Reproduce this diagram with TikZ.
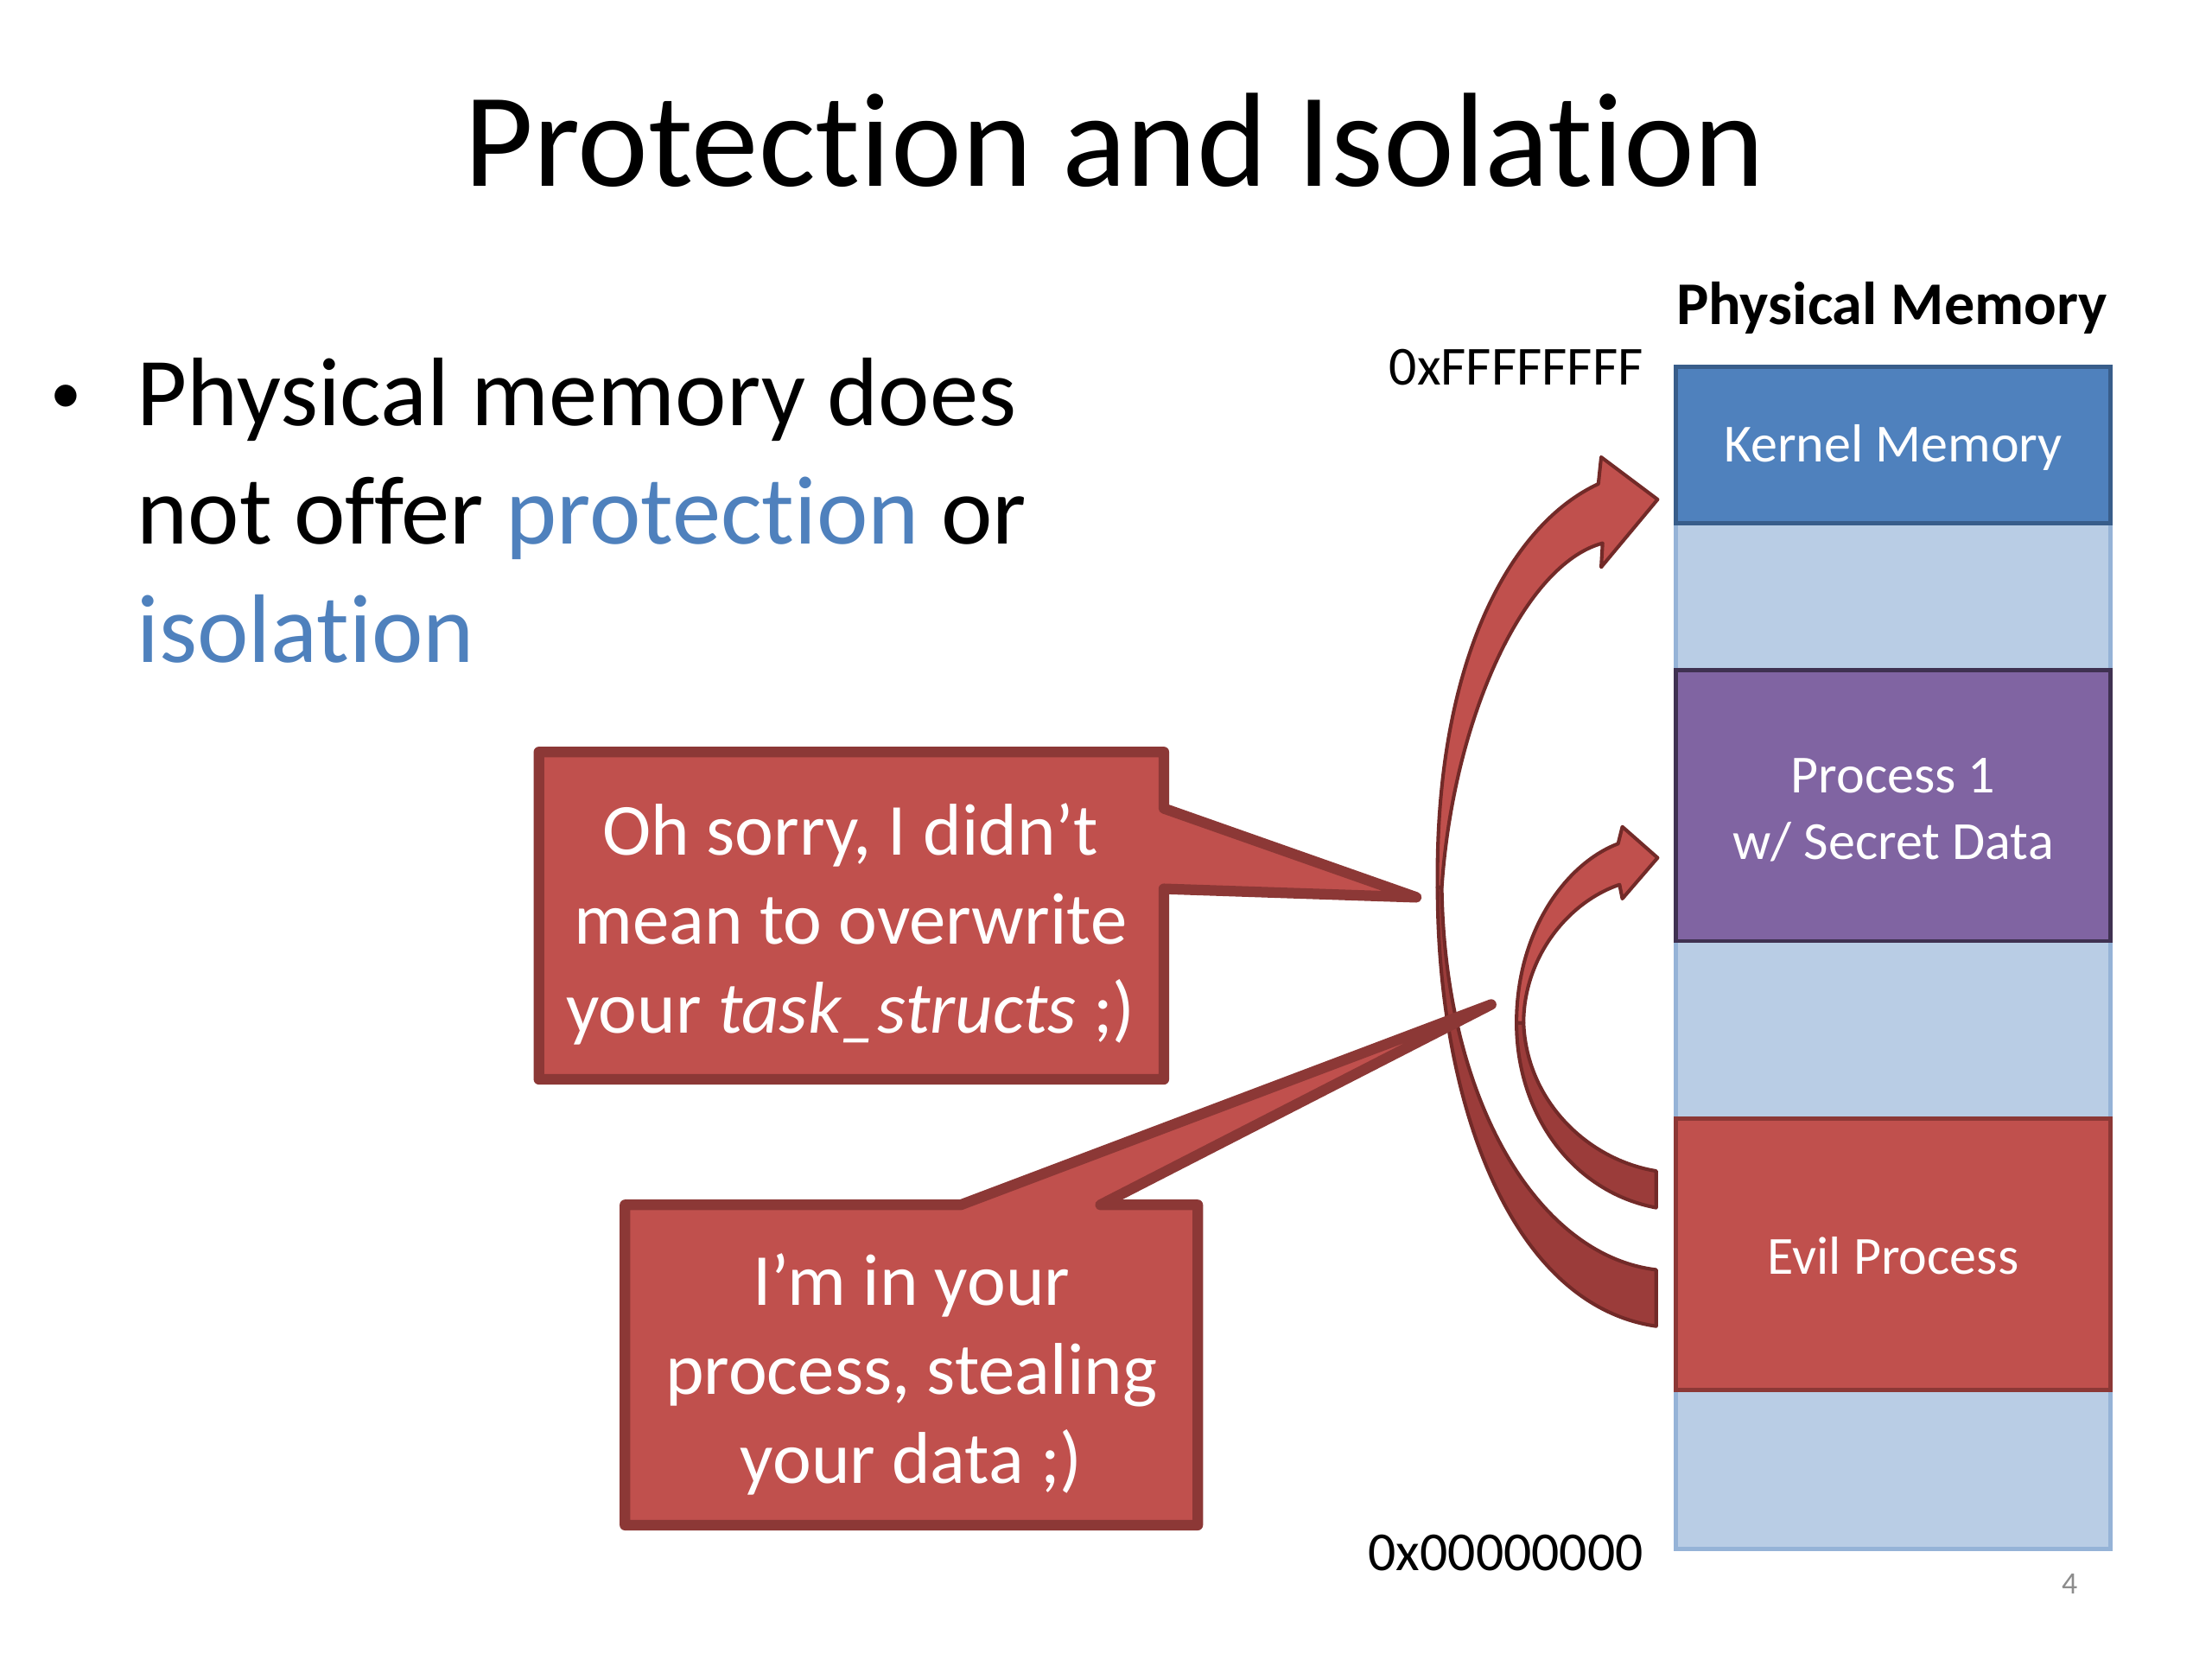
\documentclass[tikz,border=0pt]{standalone}
\usepackage{fontspec}
\setmainfont{Carlito}[Ligatures=NoCommon]
\definecolor{offblue}{HTML}{4F81BD}
\definecolor{offbluedk}{HTML}{385D8A}
\definecolor{lightblue}{HTML}{B9CDE5}
\definecolor{lightbluedk}{HTML}{95B3D7}
\definecolor{offpurple}{HTML}{8064A2}
\definecolor{offpurpledk}{HTML}{3F3151}
\definecolor{offred}{HTML}{C0504D}
\definecolor{offreddk}{HTML}{8C3836}
\definecolor{offredback}{HTML}{9B3C3A}
\definecolor{outline}{HTML}{722A28}
\begin{document}
\begin{tikzpicture}[x=1pt,y=-1pt,
  membox/.style={line width=3pt},
  memtext/.style={text=white,font=\fontsize{38}{47}\selectfont,align=center},
  callout/.style={fill=offred,draw=offreddk,line width=7.5pt,line join=round},
  calltext/.style={text=white,font=\fontsize{52}{63}\selectfont,align=center},
  arrowfront/.style={fill=offred,draw=outline,line width=2.5pt,line join=round},
  arrowback/.style={fill=offredback,draw=outline,line width=2.5pt,line join=round}]
\useasboundingbox (0,0) rectangle (1568,1176);
\fill[white] (0,0) rectangle (1568,1176);
% title
\node[anchor=base,font=\fontsize{95}{114}\selectfont] (title) at (790,132) {Protection and Isolation};
% bullet
\node[anchor=base,font=\fontsize{44}{50}\selectfont] (bullet) at (47,293) {\textbullet};
\node[anchor=west,align=left,inner sep=0pt,font=\fontsize{69}{84}\selectfont] (btext) at (97,362)
 {Physical memory does\\not offer \textcolor{offblue}{protection} or\\\textcolor{offblue}{isolation}};
% memory column
\draw[membox,fill=lightblue,draw=lightbluedk] (1188,260) rectangle (1496,1098);
\draw[membox,fill=offblue,draw=offbluedk] (1188,260) rectangle (1496,371);
\draw[membox,fill=offpurple,draw=offpurpledk] (1188,475) rectangle (1496,667);
\draw[membox,fill=offred,draw=offreddk] (1188,793) rectangle (1496,985);
\node[memtext] (kernel) at (1342,317) {Kernel Memory};
\node[memtext] (proc1) at (1342,574) {Process 1\\w/ Secret Data};
\node[memtext] (evil) at (1342,890) {Evil Process};
\node[anchor=base,font=\bfseries\fontsize{43}{50}\selectfont] (pmem) at (1341,230) {Physical Memory};
\node[anchor=base east,inner sep=0pt,font=\fontsize{39}{46}\selectfont] (hi) at (1165,273) {0xFFFFFFFF};
\node[anchor=base east,inner sep=0pt,font=\fontsize{39}{46}\selectfont] (lo) at (1165,1113) {0x00000000};
\node[anchor=base,text=black!45,font=\fontsize{22}{26}\selectfont] (pg) at (1467,1130) {4};
% big curved arrow
\path[arrowback] (1019,629) .. controls (1019,780) and (1070,925) .. (1174,940)
  -- (1174,900) .. controls (1090,890) and (1024,780) .. (1022,629) -- cycle;
\path[arrowfront] (1022,629) .. controls (1030,510) and (1080,400) .. (1136,385)
  -- (1135,402) -- (1175,354) -- (1135,324) -- (1133,343)
  .. controls (1070,372) and (1017,470) .. (1019,629) -- cycle;
% small curved arrow
\path[arrowback] (1075,725) .. controls (1075,790) and (1115,845) .. (1174,856)
  -- (1174,830) .. controls (1125,822) and (1082,780) .. (1080,725) -- cycle;
\path[arrowfront] (1080,725) .. controls (1080,680) and (1110,640) .. (1148,627)
  -- (1150,637) -- (1175,608) -- (1150,586) -- (1147,598)
  .. controls (1110,612) and (1075,660) .. (1075,725) -- cycle;
% callouts
\path[callout] (382,533) -- (825,533) -- (825,573) -- (1004,636) -- (825,630)
  -- (825,765) -- (382,765) -- cycle;
\node[calltext] (c1) at (603,655) {Oh sorry, I didn’t\\mean to overwrite\\your \textit{task\_structs} ;)};
\path[callout] (443,854) -- (681,854) -- (1057,712) -- (780,854) -- (849,854)
  -- (849,1081) -- (443,1081) -- cycle;
\node[calltext] (c2) at (646,974) {I’m in your\\process, stealing\\your data ;)};
\end{tikzpicture}
\end{document}
